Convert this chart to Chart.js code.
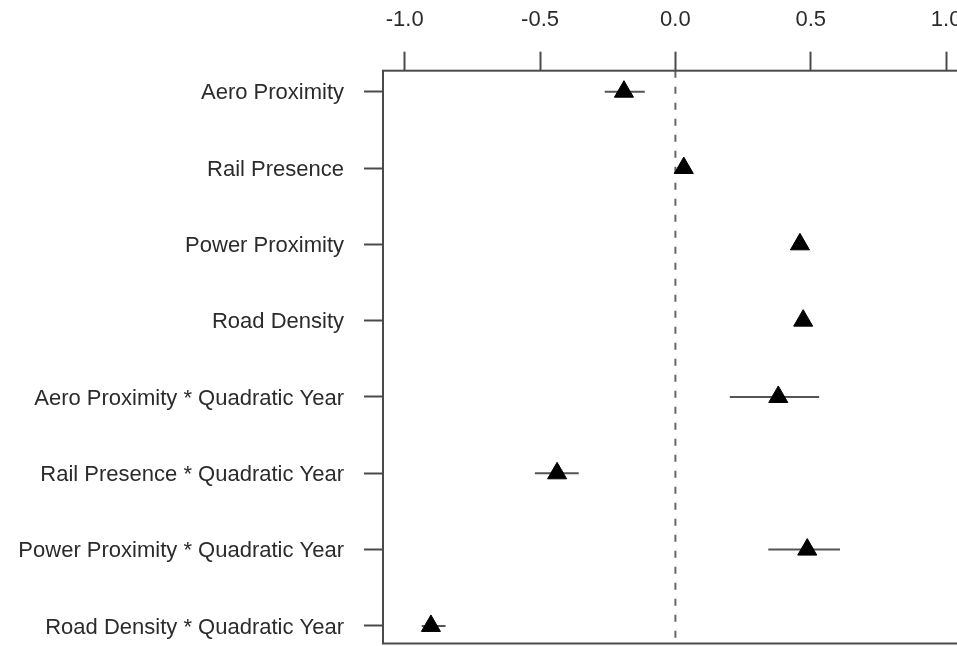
<!DOCTYPE html>
<html><head><meta charset="utf-8">
<script src="https://cdn.jsdelivr.net/npm/chart.js@4/dist/chart.umd.min.js"></script>
<style>
html,body{margin:0;padding:0;background:#fff;overflow:hidden;}
#wrap{width:975px;height:646px;}
</style>
</head><body>
<div id="wrap"><canvas id="c" width="975" height="646"></canvas></div>
<script>
const categories = [
  "Aero Proximity",
  "Rail Presence",
  "Power Proximity",
  "Road Density",
  "Aero Proximity * Quadratic Year",
  "Rail Presence * Quadratic Year",
  "Power Proximity * Quadratic Year",
  "Road Density * Quadratic Year"
];
const estimates = [-0.190, 0.031, 0.460, 0.472, 0.380, -0.437, 0.487, -0.903];
const lower     = [-0.261, 0.018, 0.447, 0.459, 0.201, -0.519, 0.343, -0.937];
const upper     = [-0.113, 0.044, 0.473, 0.485, 0.531, -0.357, 0.608, -0.849];
const xTicks = [-1.0, -0.5, 0.0, 0.5, 1.0];
const xRange = [-1.08, 1.08];
const yRange = [0.725, 8.23];
const rows = categories.map((c, i) => i + 1);

const AXIS = '#4a4a4a';
const TEXT = '#2b2b2b';
const FONT = { family: '"Liberation Sans", Arial, Helvetica, sans-serif', size: 22 };

const errorBars = categories.map((c, i) => ({
  type: 'scatter',
  showLine: true,
  data: [{ x: lower[i], y: rows[i] }, { x: upper[i], y: rows[i] }],
  borderColor: '#555555',
  borderWidth: 2,
  pointRadius: 0,
  order: 1
}));

const zeroLine = {
  type: 'scatter',
  showLine: true,
  data: [{ x: 0, y: yRange[0] }, { x: 0, y: yRange[1] }],
  borderColor: '#666666',
  borderWidth: 2,
  borderDash: [7, 9],
  pointRadius: 0,
  order: 2
};

const points = {
  type: 'scatter',
  data: categories.map((c, i) => ({ x: estimates[i], y: rows[i] })),
  pointStyle: 'triangle',
  pointRadius: 11,
  pointBackgroundColor: '#000000',
  pointBorderColor: '#000000',
  pointBorderWidth: 1,
  order: 0
};

const boxPlugin = {
  id: 'box',
  afterDraw(chart) {
    const { ctx, chartArea: a } = chart;
    ctx.save();
    ctx.strokeStyle = AXIS;
    ctx.lineWidth = 2;
    ctx.strokeRect(a.left, a.top, a.right - a.left, a.bottom - a.top);
    ctx.restore();
  }
};

function zeroPad(s) {
  s.paddingTop = 0; s.paddingBottom = 0; s.paddingLeft = 0; s.paddingRight = 0;
}

new Chart(document.getElementById('c'), {
  type: 'scatter',
  data: { datasets: [points, ...errorBars, zeroLine] },
  options: {
    responsive: false,
    animation: false,
    devicePixelRatio: 1,
    layout: { autoPadding: false, padding: { left: 0, right: 7.2, top: 0, bottom: 2.5 } },
    plugins: { legend: { display: false }, tooltip: { enabled: false } },
    scales: {
      x: {
        type: 'linear',
        position: 'top',
        min: xRange[0],
        max: xRange[1],
        afterBuildTicks: (s) => { s.ticks = xTicks.map(v => ({ value: v })); },
        afterFit: (s) => { s.height = 70.7; zeroPad(s); },
        ticks: {
          color: TEXT,
          font: FONT,
          padding: 19,
          maxRotation: 0,
          autoSkip: false,
          callback: (v) => Number(v).toFixed(1)
        },
        grid: {
          drawOnChartArea: false,
          drawTicks: true,
          tickLength: 19,
          tickWidth: 2,
          tickColor: AXIS
        },
        border: { display: false }
      },
      y: {
        type: 'linear',
        position: 'left',
        reverse: true,
        min: yRange[0],
        max: yRange[1],
        afterBuildTicks: (s) => { s.ticks = rows.map(v => ({ value: v })); },
        afterFit: (s) => { s.width = 383; zeroPad(s); },
        ticks: {
          color: TEXT,
          font: FONT,
          padding: 20,
          labelOffset: 1.5,
          autoSkip: false,
          callback: (v) => categories[Math.round(v) - 1] || ''
        },
        grid: {
          drawOnChartArea: false,
          drawTicks: true,
          tickLength: 19,
          tickWidth: 2,
          tickColor: AXIS
        },
        border: { display: false }
      }
    }
  },
  plugins: [boxPlugin]
});
</script>
</body></html>
